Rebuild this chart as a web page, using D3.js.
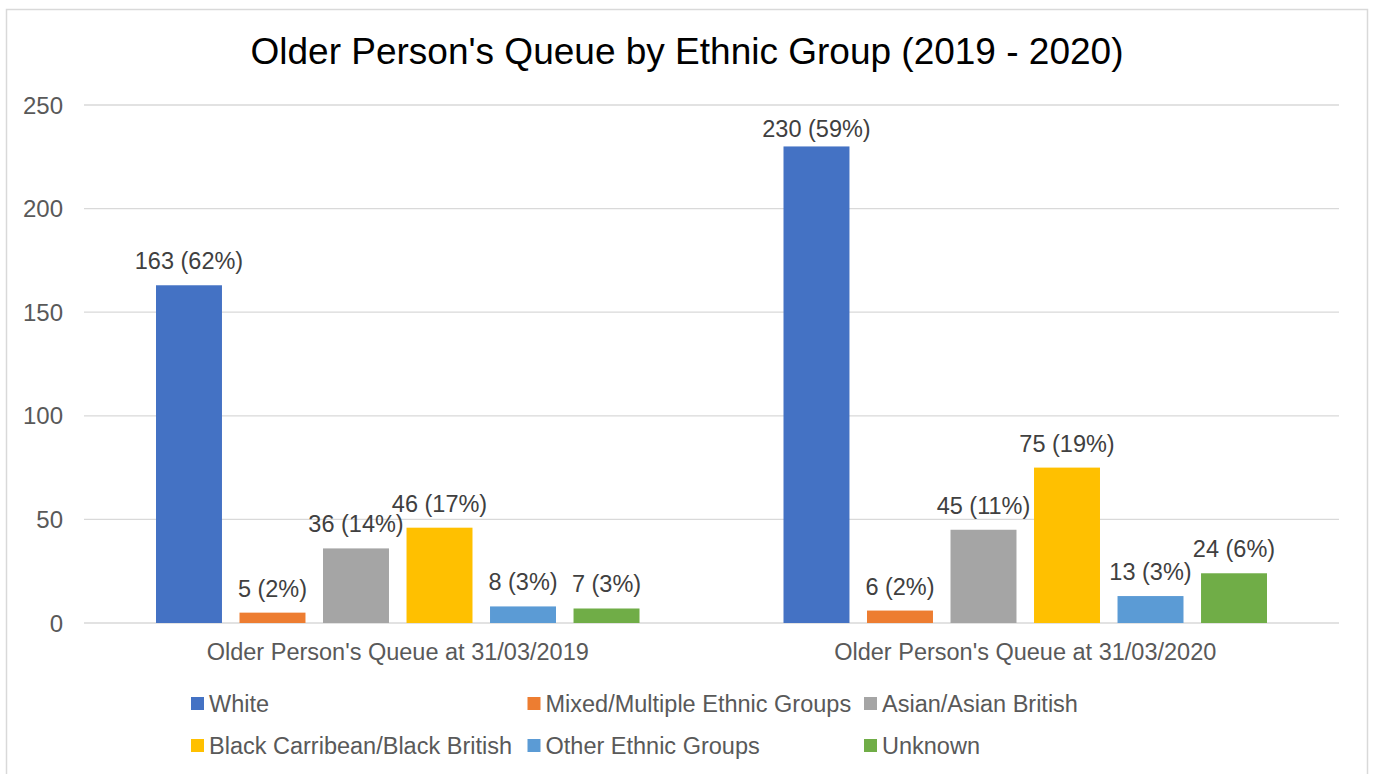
<!DOCTYPE html>
<html>
<head>
<meta charset="utf-8">
<script src="https://cdn.jsdelivr.net/npm/d3@7"></script>
<style>
  html, body { margin: 0; padding: 0; background: #fff; }
  svg { display: block; font-family: "Liberation Sans", Arial, sans-serif; }
</style>
</head>
<body>
<svg id="chart" width="1373" height="774"></svg>
<script>
const title = "Older Person's Queue by Ethnic Group (2019 - 2020)";
const categories = ["Older Person's Queue at 31/03/2019", "Older Person's Queue at 31/03/2020"];
const seriesNames = ["White", "Mixed/Multiple Ethnic Groups", "Asian/Asian British",
                     "Black Carribean/Black British", "Other Ethnic Groups", "Unknown"];
const seriesColors = ["#4472C4", "#ED7D31", "#A5A5A5", "#FFC000", "#5B9BD5", "#70AD47"];
const white   = [163, 230];
const mixed   = [5, 6];
const asian   = [36, 45];
const black   = [46, 75];
const other   = [8, 13];
const unknown = [7, 24];
const whitePct   = [62, 59];
const mixedPct   = [2, 2];
const asianPct   = [14, 11];
const blackPct   = [17, 19];
const otherPct   = [3, 3];
const unknownPct = [3, 6];
const yTicks = [0, 50, 100, 150, 200, 250];

const seriesValues = [white, mixed, asian, black, other, unknown];
const seriesPcts = [whitePct, mixedPct, asianPct, blackPct, otherPct, unknownPct];

const svg = d3.select("#chart");

// chart border
svg.append("rect")
  .attr("x", 6.5).attr("y", 9.5).attr("width", 1361).attr("height", 800)
  .attr("fill", "#fff").attr("stroke", "#d9d9d9").attr("stroke-width", 1.5);

// title
svg.append("text")
  .attr("x", 687).attr("y", 63.5)
  .attr("text-anchor", "middle")
  .attr("font-size", 37)
  .attr("fill", "#000")
  .text(title);

const plot = { left: 84, right: 1339, top: 105, bottom: 623 };

const y = d3.scaleLinear().domain([0, 250]).range([plot.bottom, plot.top]);
const x0 = d3.scaleBand().domain(categories).range([plot.left, plot.right]).padding(0);
const groupPad = 72;
const x1 = d3.scaleBand().domain(seriesNames)
  .range([groupPad, x0.bandwidth() - groupPad])
  .paddingInner(0.21).paddingOuter(0);

// gridlines
svg.append("g").selectAll("line").data(yTicks).join("line")
  .attr("x1", plot.left).attr("x2", plot.right)
  .attr("y1", d => y(d)).attr("y2", d => y(d))
  .attr("stroke", "#d9d9d9").attr("stroke-width", 1.3);

// y tick labels
svg.append("g").selectAll("text").data(yTicks).join("text")
  .attr("x", 63).attr("y", d => y(d))
  .attr("dy", "0.36em")
  .attr("text-anchor", "end")
  .attr("font-size", 24)
  .attr("fill", "#595959")
  .text(d => d);

// bars
const groups = svg.append("g").selectAll("g").data(categories).join("g")
  .attr("transform", c => `translate(${x0(c)},0)`);

const labelMinY = plot.top + 32; // labels are kept inside the plot area

groups.each(function(c, ci) {
  const g = d3.select(this);
  const recs = seriesNames.map((s, si) => ({ s, si, v: seriesValues[si][ci], p: seriesPcts[si][ci] }));
  g.selectAll("rect").data(recs).join("rect")
    .attr("x", d => x1(d.s))
    .attr("y", d => y(d.v))
    .attr("width", x1.bandwidth())
    .attr("height", d => y(0) - y(d.v))
    .attr("fill", d => seriesColors[d.si]);
  g.selectAll("text").data(recs).join("text")
    .attr("x", d => x1(d.s) + x1.bandwidth() / 2)
    .attr("y", d => Math.max(y(d.v) - 16, labelMinY))
    .attr("text-anchor", "middle")
    .attr("font-size", 23.5)
    .attr("fill", "#404040")
    .text(d => `${d.v} (${d.p}%)`);
});

// category labels
svg.append("g").selectAll("text").data(categories).join("text")
  .attr("x", c => x0(c) + x0.bandwidth() / 2)
  .attr("y", 660)
  .attr("text-anchor", "middle")
  .attr("font-size", 23.5)
  .attr("fill", "#595959")
  .text(c => c);

// legend
const legLeft = 191, colW = 336.5, rowY = [703.5, 745.5];
const leg = svg.append("g").selectAll("g").data(seriesNames).join("g")
  .attr("transform", (d, i) => `translate(${legLeft + (i % 3) * colW},${rowY[Math.floor(i / 3)]})`);
leg.append("rect")
  .attr("x", 0).attr("y", -6.5).attr("width", 13).attr("height", 13)
  .attr("fill", (d, i) => seriesColors[i]);
leg.append("text")
  .attr("x", 18).attr("y", 0).attr("dy", "0.36em")
  .attr("font-size", 23.5)
  .attr("fill", "#595959")
  .text(d => d);
</script>
</body>
</html>
